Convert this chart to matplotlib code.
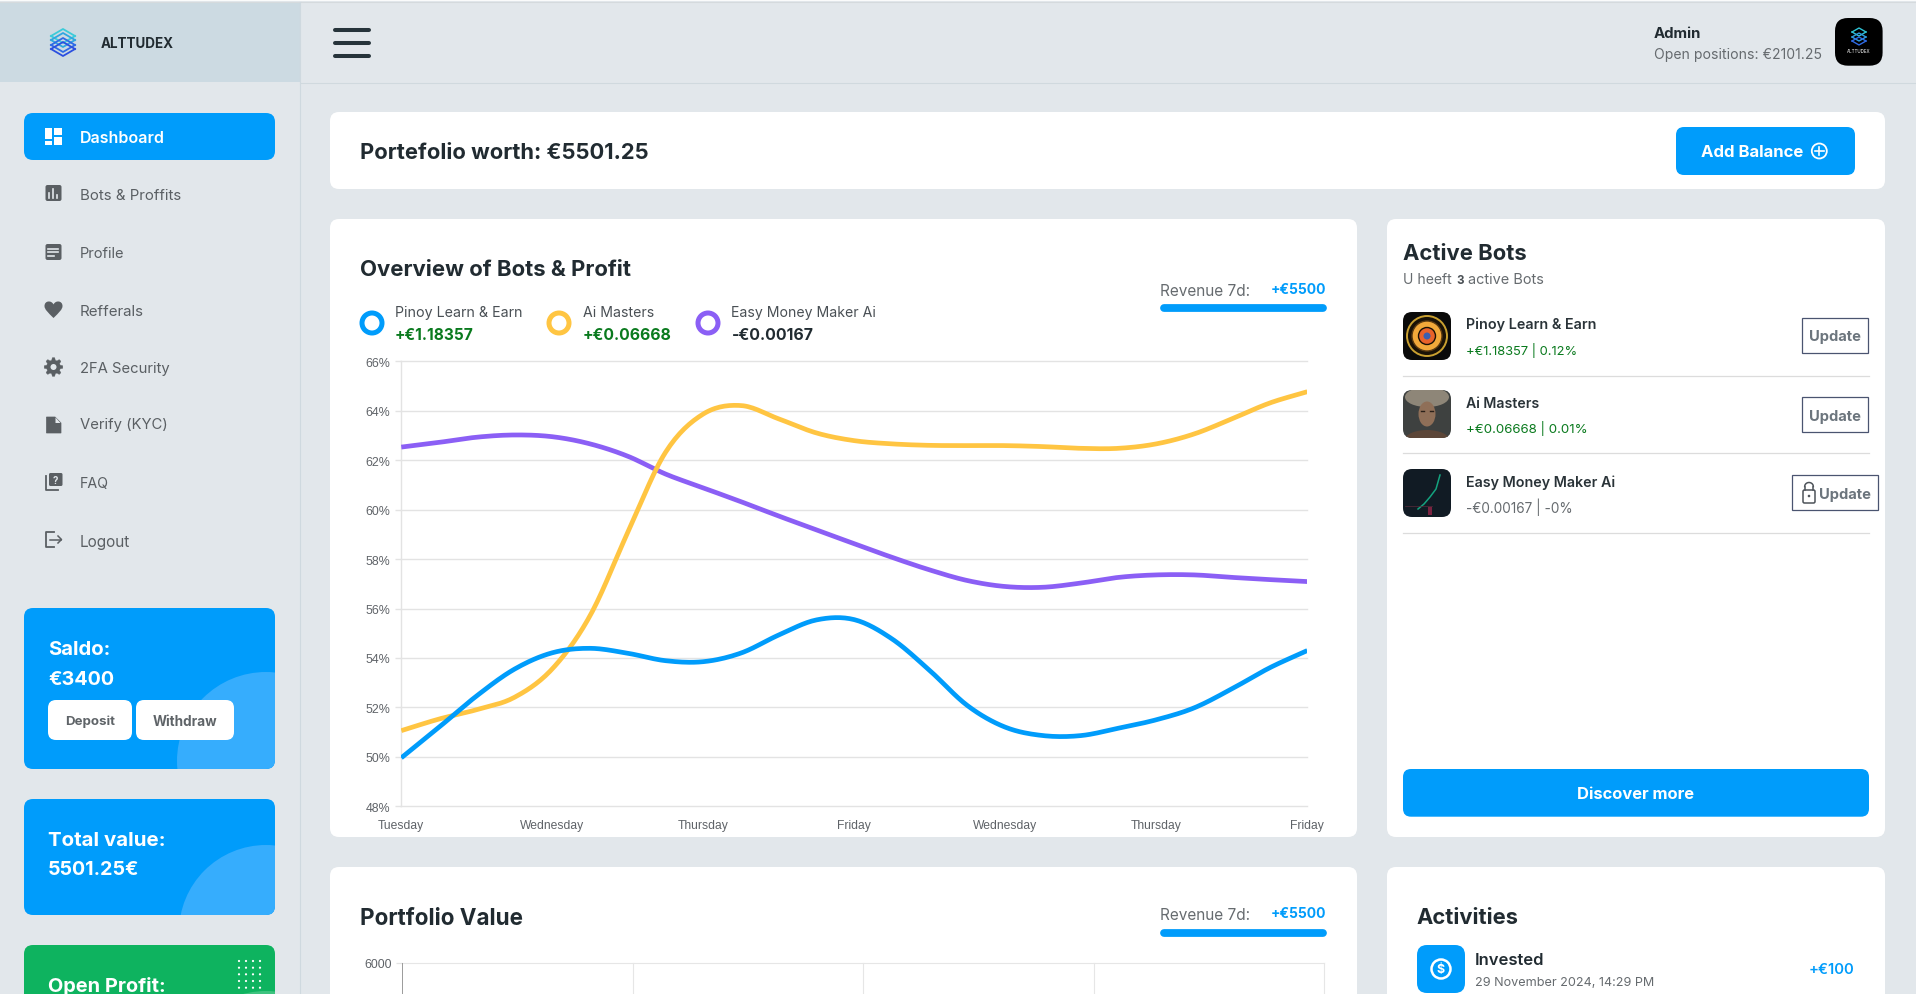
import numpy as np
import matplotlib
matplotlib.use("Agg")
import matplotlib.pyplot as plt
from matplotlib.patches import FancyBboxPatch, Circle, Rectangle, Polygon, Ellipse, PathPatch
from matplotlib.path import Path

# ---------- data ----------
day_labels = ["Tuesday", "Wednesday", "Thursday", "Friday", "Wednesday", "Thursday", "Friday"]
pct_ticks = [48, 50, 52, 54, 56, 58, 60, 62, 64, 66]
# readings at every quarter of a category step
pinoy = [49.96, 51.20, 52.47, 53.55, 54.21, 54.39, 54.19, 53.89, 53.85, 54.20, 54.93, 55.54, 55.55,
         54.77, 53.49, 52.07, 51.20, 50.86, 50.86, 51.16, 51.50, 51.98, 52.75, 53.60, 54.30]
ai_masters = [51.06, 51.53, 51.91, 52.41, 53.56, 55.71, 59.08, 62.32, 63.87, 64.21, 63.67, 63.10, 62.79,
              62.66, 62.60, 62.59, 62.59, 62.55, 62.48, 62.48, 62.66, 63.06, 63.67, 64.31, 64.77]
easy_money = [62.53, 62.72, 62.93, 63.02, 62.95, 62.66, 62.16, 61.44, 60.88, 60.32, 59.74, 59.18, 58.62,
              58.07, 57.56, 57.13, 56.89, 56.86, 57.03, 57.26, 57.36, 57.36, 57.26, 57.17, 57.09]
menu_items = ["Dashboard", "Bots & Proffits", "Profile", "Refferals", "2FA Security", "Verify (KYC)", "FAQ", "Logout"]
bot_names = ["Pinoy Learn & Earn", "Ai Masters", "Easy Money Maker Ai"]
bot_profit = ["+€1.18357", "+€0.06668", "-€0.00167"]
bot_detail = ["+€1.18357 | 0.12%", "+€0.06668 | 0.01%", "-€0.00167 | -0%"]
portfolio_ticks = [6000]

# ---------- style ----------
W, H = 1916, 995
FONT = "Inter"
BG = "#E2E7EB"; BLUE = "#009CFB"; LBLUE = "#36ADFD"; DARK = "#212B31"; GRAY = "#666B6F"
GREEN = "#0A7A1E"; YEL = "#FFC542"; PUR = "#8B5FF5"; CBLUE = "#009CFB"; GRID = "#E3E3E3"

fig = plt.figure(figsize=(W / 100, H / 100), dpi=100, facecolor=BG)
bg = fig.add_axes([0, 0, 1, 1], zorder=0)
bg.set_xlim(0, W); bg.set_ylim(H, 0); bg.axis("off")
rend = fig.canvas.get_renderer()


def T(x, y, s, w=None, c=DARK, weight=400, size=10, ha="left", family=None):
    t = bg.text(x, y, s, color=c, fontsize=size, fontweight=weight, ha=ha, va="center_baseline",
                family=family or FONT, zorder=10)
    if w:
        t.set_fontsize(size * w / t.get_window_extent(rend).width)
    return t


def RR(x0, y0, x1, y1, r, fc, ec="none", lw=0, z=2):
    p = FancyBboxPatch((x0, y0), x1 - x0, y1 - y0, boxstyle=f"round,pad=0,rounding_size={r}",
                       fc=fc, ec=ec, lw=lw, zorder=z)
    bg.add_patch(p)
    return p


# ---------- chrome ----------
bg.add_patch(Rectangle((0, 3), 300, 80, fc="#CCDAE2", ec="none", zorder=1))
bg.add_patch(Rectangle((0, 0), W, 2, fc="#FAFBFB", ec="none", zorder=1))
bg.plot([0, W], [2.5, 2.5], color="#D5DADD", lw=0.8, zorder=1)
bg.plot([300, W], [83.5, 83.5], color="#D0D9DE", lw=0.8, zorder=1)
bg.plot([300, 300], [3, H], color="#CFD9DF", lw=0.8, zorder=1)

# logo
for dy, col in [(-6, "#3CCBD9"), (-2, "#2FA6E0"), (3, "#2F6BE5"), (7, "#2B4FE0")]:
    bg.plot([51, 63, 75], [43 + dy, 43 + dy - 7, 43 + dy], color=col, lw=1.3, zorder=3)
    bg.plot([51, 63, 75], [43 + dy, 43 + dy + 7, 43 + dy], color=col, lw=1.3, zorder=3)
T(101, 43, "ALTTUDEX", 73, DARK, 700)

for yy in (31, 44, 57):
    bg.plot([335, 369.5], [yy, yy], color="#27343B", lw=2.9, solid_capstyle="round", zorder=3)

T(1654, 32, "Admin", 47.5, DARK, 700)
T(1654, 53, "Open positions: €2101.25", 167.7, GRAY)
RR(1835, 19, 1882.6, 66.7, 13, "#000000")
for dy, col in [(-5, "#2FC4D6"), (0, "#2F9BE0"), (4, "#2F6BE5")]:
    bg.plot([1852, 1859, 1866], [38 + dy, 38 + dy - 4, 38 + dy], color=col, lw=1, zorder=3)
    bg.plot([1852, 1859, 1866], [38 + dy, 38 + dy + 4, 38 + dy], color=col, lw=1, zorder=3)
T(1847, 51, "ALTTUDEX", 24, "#FFFFFF", 400)

# ---------- sidebar ----------
RR(24, 114, 275, 161, 9, BLUE)
menu_y = [136.7, 194.7, 252.7, 310, 368, 424, 482.7, 540.7]
menu_w = [84.5, 101.6, 45, 64.5, 90, 88, 29, 50.7]
for i, (name, yy, ww) in enumerate(zip(menu_items, menu_y, menu_w)):
    T(80, yy, name, ww, "#FFFFFF" if i == 0 else "#5A5F63", 600 if i == 0 else 400)

ICON = "#5A5F63"
# dashboard
for (x0, y0, x1, y1) in [(45, 129, 52.5, 140), (54, 129, 62, 136), (54, 137.5, 62, 146), (45, 141.5, 52.5, 146)]:
    bg.add_patch(Rectangle((x0, y0), x1 - x0, y1 - y0, fc="#FFFFFF", ec="none", zorder=3))
# bots
RR(45.5, 186, 61.5, 202, 2, ICON, z=3)
for xx, top in [(49.5, 194), (53.5, 190), (57.5, 196)]:
    bg.plot([xx, xx], [top, 199], color=BG, lw=1.2, zorder=4)
# profile
RR(45.5, 245, 61.5, 261, 2, ICON, z=3)
for yy, x1 in [(249.5, 58), (253, 58), (256.5, 54)]:
    bg.plot([48.5, x1], [yy, yy], color=BG, lw=1.2, zorder=4)
# heart
heart = Path([(53.5, 319), (48, 313.5), (44.5, 310.5), (44.5, 307), (44.5, 301.5), (51.5, 301),
              (53.5, 305.5), (55.5, 301), (62.5, 301.5), (62.5, 307), (62.5, 310.5), (59, 313.5), (53.5, 319)],
             [Path.MOVETO] + [Path.CURVE4] * 12)
bg.add_patch(PathPatch(heart, fc=ICON, ec="none", zorder=3))
# gear
ang = np.linspace(0, 2 * np.pi, 48, endpoint=False)
rad = np.where((ang * 8 / (2 * np.pi) + 0.25) % 1 < 0.5, 9.3, 6.9)
bg.add_patch(Polygon(np.c_[53.5 + rad * np.cos(ang), 368 + rad * np.sin(ang)], fc=ICON, ec=ICON, lw=0.3, zorder=3))
bg.add_patch(Circle((53.5, 368), 3, fc=BG, ec="none", zorder=4))
# file
bg.add_patch(Polygon([(46.5, 418), (55, 418), (61, 424), (61, 434), (46.5, 434)], fc=ICON, ec=ICON, lw=0.5, zorder=3))
bg.add_patch(Polygon([(55.5, 418.5), (60.5, 424), (55.5, 424)], fc=BG, ec="none", zorder=4))
# faq
RR(49, 474, 62.5, 487, 1.5, ICON, z=3)
bg.text(55.7, 480.5, "?", fontsize=7, fontweight="bold", color=BG, ha="center", va="center", family=FONT, zorder=4)
bg.plot([46, 46, 58], [477, 491, 491], color=ICON, lw=1.3, zorder=3)
# logout
bg.plot([54, 46, 46, 54], [533, 533, 548, 548], color=ICON, lw=1.3, zorder=3)
bg.plot([50, 61.5], [540.5, 540.5], color=ICON, lw=1.1, zorder=3)
bg.plot([58, 61.5, 58], [537, 540.5, 544], color=ICON, lw=1.1, zorder=3)

# side cards
c1 = RR(24, 609, 275, 770, 9, BLUE)
circ = Circle((266, 762), 89, fc=LBLUE, ec="none", zorder=3); bg.add_patch(circ); circ.set_clip_path(c1)
T(48, 648, "Saldo:", 62.6, "#FFFFFF", 700)
T(48, 677.7, "€3400", 66, "#FFFFFF", 700)
RR(48, 701, 132, 741, 8, "#FFFFFF", z=4)
RR(136, 701, 234, 741, 8, "#FFFFFF", z=4)
T(65.3, 720.5, "Deposit", 50, "#5F6468", 700)
T(153, 720.5, "Withdraw", 64.5, "#5F6468", 700)

c2 = RR(24, 800, 275, 916, 9, BLUE)
circ = Circle((266, 933), 87, fc=LBLUE, ec="none", zorder=3); bg.add_patch(circ); circ.set_clip_path(c2)
T(48, 839, "Total value:", 117.7, "#FFFFFF", 700)
T(48, 868, "5501.25€", 91.6, "#FFFFFF", 700)

c3 = RR(24, 946, 275, 1020, 9, "#0EB35F")
circ = Circle((266, 1080), 88, fc="#3EC37F", ec="none", zorder=3); bg.add_patch(circ); circ.set_clip_path(c3)
T(48, 985, "Open Profit:", 117.7, "#FFFFFF", 700)
for dx in (239, 246, 253, 260):
    for dy in (962, 968.7, 975.3, 982, 988.7):
        bg.add_patch(Circle((dx, dy), 1.1, fc="#FFFFFF", ec="none", zorder=4))

# ---------- main cards ----------
RR(330, 113, 1885, 190, 9, "#FFFFFF")
T(360, 151.2, "Portefolio worth: €5501.25", 288, DARK, 700)
RR(1676, 128, 1855, 176, 8, BLUE, z=3)
T(1701.4, 151.4, "Add Balance", 102.6, "#FFFFFF", 700)
bg.add_patch(Circle((1819.3, 152), 7.5, fc="none", ec="#FFFFFF", lw=1.3, zorder=4))
bg.plot([1815, 1823.6], [152, 152], color="#FFFFFF", lw=1.2, zorder=4)
bg.plot([1819.3, 1819.3], [147.7, 156.3], color="#FFFFFF", lw=1.2, zorder=4)

RR(330, 220, 1357, 838, 9, "#FFFFFF")
T(360, 268, "Overview of Bots & Profit", 271, DARK, 700)
legend_x = [372, 559, 708]
text_x = [395, 583, 731.5]
name_w = [128, 71, 145]
val_w = [78.5, 88.7, 82]
for lx, tx, nw, vw, col, name, val in zip(legend_x, text_x, name_w, val_w, [BLUE, YEL, PUR], bot_names, bot_profit):
    bg.add_patch(Circle((lx, 324), 10, fc="#FFFFFF", ec=col, lw=3.6, zorder=3))
    T(tx, 311.6, name, nw, "#4A5055")
    T(tx, 334, val, vw, DARK if val.startswith("-") else GREEN, 700)

for ytext, yval, ybar in [(289.6, 288.8, 309), (913.7, 912.7, 934)]:
    T(1160, ytext, "Revenue 7d:", 90.5, GRAY)
    T(1271, yval, "+€5500", 55.7, BLUE, 700)
    bg.plot([1164, 1323.5], [ybar, ybar], color=BLUE, lw=5.6, solid_capstyle="round", zorder=3)

RR(330, 868, 1357, 1020, 9, "#FFFFFF")
T(360, 916.7, "Portfolio Value", 162.5, DARK, 700)

# ---------- active bots ----------
RR(1387, 220, 1885, 838, 9, "#FFFFFF")
T(1403, 251.8, "Active Bots", 123.4, DARK, 700)
T(1403, 279, "U heeft", 48.8, GRAY)
T(1456, 279, "3", 7.4, "#4A5055", 700)
T(1467.9, 279, "active Bots", 76, GRAY)
av_y = [313, 391, 470]
name_y = [323, 402, 481.4]
nm_w = [130, 73, 149]
sub_y = [349, 427, 506]
sub_w = [112, 123, 107.5]
for i in range(3):
    T(1466, name_y[i], bot_names[i], nm_w[i], "#2A3338", 600)
    T(1466, sub_y[i], bot_detail[i], sub_w[i], GRAY if i == 2 else GREEN)
for yy in (376.5, 454.4, 533.7):
    bg.plot([1403, 1869], [yy, yy], color="#DCDCDC", lw=0.9, zorder=3)

# avatar 1
a = RR(1403, 313, 1451, 361, 9, "#0A0A0A", z=3)
bg.add_patch(Circle((1427, 337), 20, fc="#1A1206", ec="#C9A030", lw=1.4, zorder=4))
bg.add_patch(Circle((1427, 337), 15, fc="#F2A93A", ec="#5A3A10", lw=1, zorder=5))
bg.add_patch(Circle((1427, 337), 8.5, fc="#E8622A", ec="#1A1206", lw=1, zorder=6))
bg.add_patch(Circle((1427, 337), 3.5, fc="#3A5FB0", ec="none", zorder=7))
# avatar 2
a = RR(1403, 391, 1451, 439, 9, "#3E4140", z=3)
p = Ellipse((1427, 398), 44, 20, fc="#8E8678", ec="none", zorder=4); bg.add_patch(p); p.set_clip_path(a)
p = Ellipse((1427, 442), 46, 22, fc="#5C4638", ec="none", zorder=4); bg.add_patch(p); p.set_clip_path(a)
bg.add_patch(Ellipse((1427, 415), 17, 25, fc="#8F6F58", ec="none", zorder=5))
bg.plot([1421, 1424], [412, 412], color="#2A2019", lw=1, zorder=6)
bg.plot([1430, 1433], [412, 412], color="#2A2019", lw=1, zorder=6)
# avatar 3
a = RR(1403, 470, 1451, 518, 9, "#111B24", z=3)
bg.plot([1418, 1424, 1430, 1436, 1440], [510, 505, 498, 490, 476], color="#14A37F", lw=1.1, zorder=4)
bg.add_patch(Rectangle((1428, 508), 4, 8, fc="#7A2340", ec="none", zorder=4))
bg.plot([1405, 1432], [507, 507], color="#5A2A3A", lw=0.5, zorder=4)

# update buttons
BTN = "#4A5470"
for y0, y1, yc in [(319, 353.7, 336), (398, 432.6, 415)]:
    bg.add_patch(Rectangle((1802, y0), 66, y1 - y0, fc="none", ec=BTN, lw=0.9, zorder=3))
    T(1809, yc, "Update", 52, "#6C757D", 700)
bg.add_patch(Rectangle((1792, 476), 86, 35, fc="none", ec=BTN, lw=0.9, zorder=3))
T(1819, 493, "Update", 52, "#6C757D", 700)
bg.add_patch(FancyBboxPatch((1803, 491), 12, 13, boxstyle="round,pad=0,rounding_size=1.5", fc="none", ec="#4E545A", lw=1.1, zorder=4))
th = np.linspace(np.pi, 2 * np.pi, 20)
bg.plot(1809 + 4.3 * np.cos(th), 487.5 + 4 * np.sin(th), color="#4E545A", lw=1.1, zorder=4)
bg.plot([1804.7, 1804.7], [487.5, 491], color="#4E545A", lw=1.1, zorder=4)
bg.plot([1813.3, 1813.3], [487.5, 491], color="#4E545A", lw=1.1, zorder=4)
bg.add_patch(Circle((1809, 497), 1.3, fc="#4E545A", ec="none", zorder=4))

RR(1403, 770, 1869, 817.7, 8, BLUE, z=3)
T(1577, 793.4, "Discover more", 117.5, "#FFFFFF", 700)

# activities
RR(1387, 868, 1885, 1020, 9, "#FFFFFF")
T(1416.5, 916.5, "Activities", 101.7, DARK, 700)
RR(1417, 946, 1465, 994, 10, BLUE, z=3)
bg.add_patch(Circle((1441, 970), 9.5, fc="none", ec="#FFFFFF", lw=1.8, zorder=4))
bg.text(1441, 970, "$", fontsize=9, fontweight="bold", color="#FFFFFF", ha="center", va="center", family=FONT, zorder=5)
T(1475, 958.7, "Invested", 69.5, DARK, 600)
T(1475, 981.7, "29 November 2024, 14:29 PM", 180, GRAY)
T(1809, 968, "+€100", 45.5, BLUE, 600)


# ---------- main chart ----------
def smooth(xs, ys, n=16):
    """Catmull-Rom curve through the readings."""
    xs = np.asarray(xs, float); ys = np.asarray(ys, float)
    px = np.r_[2 * xs[0] - xs[1], xs, 2 * xs[-1] - xs[-2]]
    py = np.r_[2 * ys[0] - ys[1], ys, 2 * ys[-1] - ys[-2]]
    ox, oy = [], []
    for i in range(1, len(px) - 2):
        u = np.linspace(0, 1, n, endpoint=False)
        b0 = -0.5 * u**3 + u**2 - 0.5 * u
        b1 = 1.5 * u**3 - 2.5 * u**2 + 1
        b2 = -1.5 * u**3 + 2 * u**2 + 0.5 * u
        b3 = 0.5 * u**3 - 0.5 * u**2
        ox.append(b0 * px[i - 1] + b1 * px[i] + b2 * px[i + 1] + b3 * px[i + 2])
        oy.append(b0 * py[i - 1] + b1 * py[i] + b2 * py[i + 1] + b3 * py[i + 2])
    return np.r_[np.concatenate(ox), xs[-1]], np.r_[np.concatenate(oy), ys[-1]]


L, R, TOP, BOT = 401.3, 1307.3, 362.3, 807.3
ax = fig.add_axes([L / W, 1 - BOT / H, (R - L) / W, (BOT - TOP) / H], zorder=5)
ax.patch.set_alpha(0)
pos = np.arange(len(pinoy)) / 4
for series, col, z in [(easy_money, PUR, 3), (ai_masters, YEL, 4), (pinoy, CBLUE, 5)]:
    sx, sy = smooth(pos, series)
    ax.plot(sx, sy, color=col, lw=3.4, solid_capstyle="butt", zorder=z)
ax.set_xlim(0, 6); ax.set_ylim(48, 66)
ax.set_yticks(pct_ticks); ax.set_yticklabels([f"{v}%" for v in pct_ticks])
ax.set_xticks(range(7)); ax.set_xticklabels(day_labels)
ax.grid(axis="y", color=GRID, lw=1.0); ax.set_axisbelow(True)
for gl in ax.get_ygridlines():
    gl.set_clip_on(False)
for s in ("top", "right", "bottom"):
    ax.spines[s].set_visible(False)
ax.spines["left"].set_color(GRID); ax.spines["left"].set_linewidth(1.0)
ax.tick_params(axis="y", length=4.3, width=1.0, color=GRID, pad=3.4, labelsize=8.9, labelcolor="#5F6368")
ax.tick_params(axis="x", length=0, pad=9, labelsize=8.7, labelcolor="#5F6368")
for lab in ax.get_xticklabels() + ax.get_yticklabels():
    lab.set_family("Liberation Sans")

# ---------- portfolio chart (cut off by the page fold) ----------
L2, R2, TOP2 = 402, 1324, 964
ax2 = fig.add_axes([L2 / W, 1 - (TOP2 + 300) / H, (R2 - L2) / W, 300 / H], zorder=5)
ax2.patch.set_alpha(0)
ax2.set_xlim(0, 4); ax2.set_ylim(0, portfolio_ticks[-1])
ax2.set_yticks(portfolio_ticks); ax2.set_yticklabels([str(v) for v in portfolio_ticks])
ax2.set_xticks([1, 2, 3, 4]); ax2.set_xticklabels([])
ax2.grid(True, color="#E6E6E6", lw=0.8); ax2.set_axisbelow(True)
for gl in ax2.get_ygridlines() + ax2.get_xgridlines():
    gl.set_clip_on(False)
for s in ("top", "right", "bottom"):
    ax2.spines[s].set_visible(False)
ax2.spines["left"].set_color("#9A9A9A"); ax2.spines["left"].set_linewidth(0.7)
ax2.tick_params(axis="y", length=4.3, width=0.9, color=GRID, pad=3, labelsize=8.9, labelcolor="#5F6368")
ax2.tick_params(axis="x", length=0)
for lab in ax2.get_yticklabels():
    lab.set_family("Liberation Sans")

fig.savefig("out.png", dpi=100, facecolor=BG)
